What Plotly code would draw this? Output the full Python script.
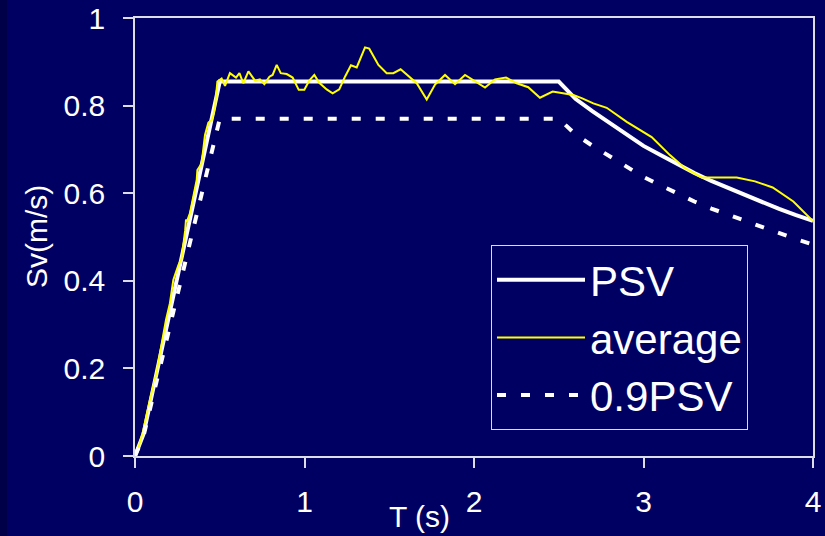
import plotly.graph_objects as go

# ---- data ----
T_psv = [0, 0.05, 0.1, 0.15, 0.2, 0.25, 0.3, 0.35, 0.4, 0.45, 0.5, 2.5,
         2.6, 2.7, 2.8, 2.9, 3.0, 3.1, 3.2, 3.3, 3.4, 3.5, 3.6, 3.7, 3.8, 3.9, 4.0]
psv = [0, 0.05, 0.14, 0.23, 0.32, 0.41, 0.50, 0.59, 0.68, 0.77, 0.855, 0.855,
       0.815, 0.787, 0.760, 0.733, 0.708, 0.687, 0.666, 0.646, 0.628, 0.612, 0.595, 0.579, 0.564, 0.550, 0.537]
psv09 = [0, 0.045, 0.126, 0.207, 0.288, 0.369, 0.45, 0.531, 0.612, 0.693, 0.77, 0.77,
         0.734, 0.708, 0.684, 0.660, 0.637, 0.618, 0.599, 0.581, 0.565, 0.551, 0.536, 0.521, 0.508, 0.495, 0.483]

T_avg = [0, 0.004, 0.02, 0.049, 0.088, 0.128, 0.147, 0.183, 0.206, 0.226, 0.256, 0.275,
         0.296, 0.301, 0.306, 0.324, 0.348, 0.364, 0.368, 0.393, 0.413, 0.433, 0.452, 0.462,
         0.472, 0.486, 0.511, 0.531, 0.560, 0.596, 0.616, 0.639, 0.669, 0.708, 0.737, 0.763,
         0.793, 0.812, 0.836, 0.860, 0.895, 0.930, 0.966, 0.999, 1.028, 1.058, 1.087, 1.131,
         1.166, 1.205, 1.239, 1.274, 1.308, 1.357, 1.382, 1.436, 1.485, 1.524, 1.567, 1.613,
         1.662, 1.721, 1.770, 1.829, 1.888, 1.947, 2.006, 2.065, 2.124, 2.189, 2.252, 2.320,
         2.389, 2.464, 2.586, 2.635, 2.704, 2.783, 2.901, 3.048, 3.156, 3.245, 3.343, 3.550,
         3.658, 3.762, 3.884, 3.998]
avg = [0, 0.007, 0.018, 0.059, 0.128, 0.192, 0.234, 0.311, 0.349, 0.402, 0.436, 0.451,
       0.515, 0.540, 0.535, 0.554, 0.600, 0.630, 0.653, 0.668, 0.733, 0.761, 0.767, 0.779,
       0.797, 0.855, 0.862, 0.845, 0.874, 0.864, 0.874, 0.851, 0.878, 0.857, 0.860, 0.849,
       0.866, 0.870, 0.893, 0.874, 0.872, 0.864, 0.836, 0.836, 0.857, 0.870, 0.852, 0.837,
       0.828, 0.837, 0.866, 0.892, 0.887, 0.933, 0.930, 0.893, 0.874, 0.874, 0.883, 0.868,
       0.851, 0.814, 0.848, 0.870, 0.849, 0.870, 0.855, 0.841, 0.860, 0.864, 0.851, 0.842,
       0.818, 0.832, 0.824, 0.817, 0.805, 0.795, 0.763, 0.728, 0.687, 0.657, 0.636, 0.636,
       0.627, 0.613, 0.581, 0.537]

x_ticks = [0, 1, 2, 3, 4]
y_ticks = [0, 0.2, 0.4, 0.6, 0.8, 1]

BG = "#000062"
FONT = "Liberation Sans, Arial, sans-serif"
AXC = "#DCDCE6"

fig = go.Figure()
fig.add_trace(go.Scatter(x=T_psv, y=psv, mode="lines", name="PSV",
                         line=dict(color="white", width=4)))
fig.add_trace(go.Scatter(x=T_avg, y=avg, mode="lines", name="average",
                         line=dict(color="#FFFF00", width=2)))
fig.add_trace(go.Scatter(x=T_psv, y=psv09, mode="lines", name="0.9PSV",
                         line=dict(color="white", width=4, dash="9px,15px")))

fig.update_layout(
    width=825, height=536,
    margin=dict(l=135, r=12, t=18, b=80, autoexpand=False),
    paper_bgcolor=BG, plot_bgcolor=BG,
    font=dict(family=FONT, color="white", size=30),
    showlegend=True,
    legend=dict(x=(491-135)/678, y=(456-245)/438, xanchor="left", yanchor="top",
                bgcolor=BG, bordercolor=AXC, borderwidth=1,
                font=dict(size=42, color="white"), itemwidth=88,
                tracegroupgap=0),
    shapes=[dict(type="rect", xref="paper", yref="paper",
                 x0=-135/678, x1=-128/678, y0=-80/438, y1=1 + 18/438,
                 fillcolor="#000048", line=dict(width=0), layer="below")],
    annotations=[
        dict(text="T (s)", xref="paper", yref="paper", x=(419-135)/678, y=-(516-456)/438,
             xanchor="center", yanchor="middle", showarrow=False,
             font=dict(size=30, color="white", family=FONT)),
        dict(text="Sv(m/s)", xref="paper", yref="paper", x=-(135-36)/678, y=0.5,
             xanchor="center", yanchor="middle", showarrow=False, textangle=-90,
             font=dict(size=30, color="white", family=FONT)),
    ],
)
fig.update_xaxes(range=[0, 4], tickvals=x_ticks, ticks="outside", ticklen=10,
                 tickcolor=AXC, tickwidth=1.5, showline=True, linecolor=AXC, linewidth=1.5,
                 mirror=True, showgrid=False, zeroline=False, ticklabelstandoff=8,
                 automargin=False, tickfont=dict(size=30, color="white"))
fig.update_yaxes(range=[0, 1], tickvals=y_ticks, ticks="outside", ticklen=10,
                 tickcolor=AXC, tickwidth=1.5, showline=True, linecolor=AXC, linewidth=1.5,
                 mirror=True, showgrid=False, zeroline=False, ticklabelstandoff=12,
                 automargin=False, tickfont=dict(size=30, color="white"))

fig.write_html("out.html")
